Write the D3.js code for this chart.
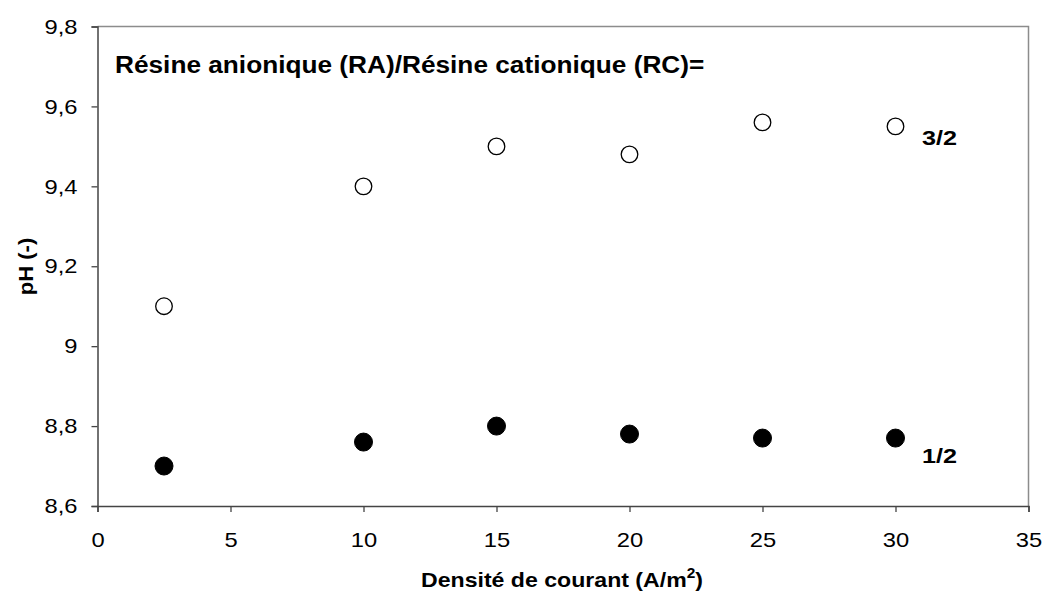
<!DOCTYPE html>
<html>
<head>
<meta charset="utf-8">
<script src="https://cdn.jsdelivr.net/npm/d3@7"></script>
<style>
  html, body { margin: 0; padding: 0; background: #fff; }
  svg { display: block; font-family: "Liberation Sans", Arial, sans-serif; }
</style>
</head>
<body>
<svg id="chart" width="1044" height="595"></svg>
<script>
// Current density (A/m²)
const density = [2.5, 10, 15, 20, 25, 30];
// pH for resin ratio RA/RC = 3/2 (open circles)
const phRatio32 = [9.10, 9.40, 9.50, 9.48, 9.56, 9.55];
// pH for resin ratio RA/RC = 1/2 (filled circles)
const phRatio12 = [8.70, 8.76, 8.80, 8.78, 8.77, 8.77];
const xTicks = [0, 5, 10, 15, 20, 25, 30, 35];
const yTicks = [8.6, 8.8, 9.0, 9.2, 9.4, 9.6, 9.8];

const svg = d3.select("#chart");
const plotLeft = 97.5, plotRight = 1028.5, plotTop = 26.5, plotBottom = 506;
const WIDEN = 1.13; // text in this chart is set slightly wide

const x = d3.scaleLinear().domain([0, 35]).range([plotLeft, plotRight]);
const y = d3.scaleLinear().domain([8.6, 9.8]).range([plotBottom, plotTop]);

const fmt = v => (Math.abs(v - 9) < 1e-9 ? "9" : d3.format(".1f")(v).replace(".", ","));

// widen a text element horizontally while keeping its anchor
function widen(sel, k) {
  sel.each(function () {
    const len = this.getComputedTextLength();
    d3.select(this).attr("textLength", len * k).attr("lengthAdjust", "spacingAndGlyphs");
  });
}

// frame: top and right edges
svg.append("path")
  .attr("d", `M${plotLeft},${plotTop}H${plotRight}V${plotBottom}`)
  .attr("fill", "none").attr("stroke", "#8c8c8c").attr("stroke-width", 1.5);

// y axis
const gy = svg.append("g").attr("transform", `translate(${plotLeft},0)`)
  .call(d3.axisLeft(y).tickValues(yTicks).tickFormat(fmt).tickSize(6).tickPadding(14));
// x axis
const gx = svg.append("g").attr("transform", `translate(0,${plotBottom})`)
  .call(d3.axisBottom(x).tickValues(xTicks).tickFormat(d3.format("d")).tickSize(6).tickPadding(20));

[gx, gy].forEach(g => {
  g.select(".domain").attr("stroke", "#444").attr("stroke-width", 1.5);
  g.selectAll(".tick line").attr("stroke", "#444").attr("stroke-width", 1.3);
  g.selectAll(".tick text").attr("fill", "#000")
    .style("font-size", "21px").style("font-family", "Liberation Sans, Arial, sans-serif");
  widen(g.selectAll(".tick text"), WIDEN);
});

// data markers
const pts32 = density.map((d, i) => ({ x: d, y: phRatio32[i] }));
const pts12 = density.map((d, i) => ({ x: d, y: phRatio12[i] }));

svg.append("g").selectAll("circle").data(pts12).join("circle")
  .attr("cx", d => x(d.x)).attr("cy", d => y(d.y)).attr("r", 9)
  .attr("fill", "#000").attr("stroke", "#000").attr("stroke-width", 1);

svg.append("g").selectAll("circle").data(pts32).join("circle")
  .attr("cx", d => x(d.x)).attr("cy", d => y(d.y)).attr("r", 8.3)
  .attr("fill", "#fff").attr("stroke", "#000").attr("stroke-width", 1.3);

// title inside plot
const title = svg.append("text").attr("x", 115).attr("y", 73)
  .style("font-size", "23px").style("font-weight", "bold")
  .text("Résine anionique (RA)/Résine cationique (RC)=");
widen(title, 1.14);

// series labels
const lab32 = svg.append("text").attr("x", 922).attr("y", 145)
  .style("font-size", "21px").style("font-weight", "bold").text("3/2");
const lab12 = svg.append("text").attr("x", 922).attr("y", 463)
  .style("font-size", "21px").style("font-weight", "bold").text("1/2");
widen(lab32, 1.2);
widen(lab12, 1.2);

// x axis title
const xt = svg.append("text").attr("x", 562).attr("y", 587).attr("text-anchor", "middle")
  .style("font-size", "21px").style("font-weight", "bold");
xt.append("tspan").text("Densité de courant (A/m");
xt.append("tspan").attr("dy", -9).style("font-size", "14px").text("2");
xt.append("tspan").attr("dy", 9).text(")");
widen(xt, 1.1);

// y axis title
const yt = svg.append("text").attr("transform", "translate(33,266.5) rotate(-90)").attr("text-anchor", "middle")
  .style("font-size", "20px").style("font-weight", "bold").text("pH (-)");
widen(yt, 1.1);
</script>
</body>
</html>
